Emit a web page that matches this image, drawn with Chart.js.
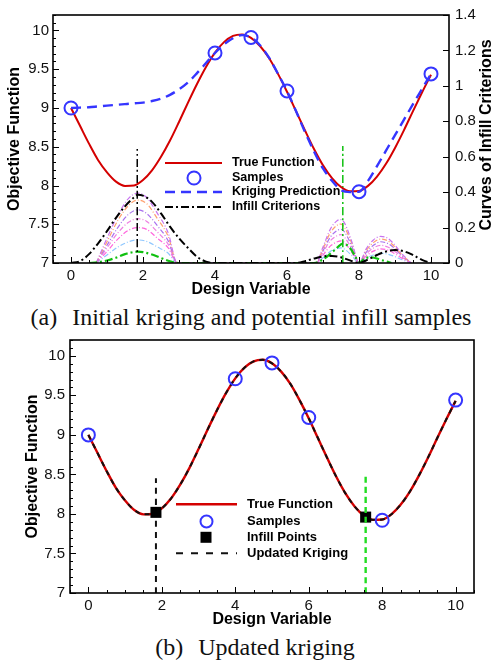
<!DOCTYPE html>
<html>
<head>
<meta charset="utf-8">
<script src="https://cdn.jsdelivr.net/npm/chart.js@4.4.1/dist/chart.umd.min.js"></script>
<style>
  html, body { margin: 0; padding: 0; background: #fff; }
  body { width: 494px; height: 666px; position: relative; overflow: hidden; }
  canvas { position: absolute; left: 0; }
  #top { top: 0; }
  #bottom { top: 326px; }
  .cap {
    position: absolute; width: 494px; text-align: center;
    font-family: "Liberation Serif", "Times New Roman", serif;
    font-size: 24px; line-height: 28px; color: #111; white-space: nowrap;
  }
  .gap { display: inline-block; width: 15px; }
</style>
</head>
<body>
<canvas id="top" width="494" height="300"></canvas>
<div class="cap" style="top:303px; left:4px">(a)<span class="gap"></span>Initial kriging and potential infill samples</div>
<canvas id="bottom" width="494" height="304"></canvas>
<div class="cap" style="top:633px; left:8px">(b)<span class="gap"></span>Updated kriging</div>
<script>
/* global Chart */

// design variable grid for the curves
const xGrid = [0, 0.25, 0.5, 0.75, 1, 1.25, 1.5, 1.75, 2, 2.25, 2.5, 2.75, 3, 3.25, 3.5, 3.75,
  4, 4.25, 4.5, 4.75, 5, 5.25, 5.5, 5.75, 6, 6.25, 6.5, 6.75, 7, 7.25, 7.5, 7.75,
  8, 8.25, 8.5, 8.75, 9, 9.25, 9.5, 9.75, 10];

const trueY = [9.0, 8.77, 8.54, 8.33, 8.17, 8.05, 7.995, 8.0, 8.07, 8.195, 8.37, 8.58, 8.82, 9.07, 9.31, 9.53,
  9.715, 9.85, 9.93, 9.95, 9.905, 9.8, 9.645, 9.44, 9.21, 8.96, 8.71, 8.47, 8.26, 8.095, 7.98, 7.925,
  7.93, 7.995, 8.115, 8.28, 8.485, 8.715, 8.96, 9.2, 9.43];

const krigingY = [9.0, 9.005, 9.01, 9.02, 9.03, 9.04, 9.05, 9.06, 9.07, 9.09, 9.12, 9.17, 9.24, 9.33, 9.45, 9.58,
  9.71, 9.82, 9.9, 9.94, 9.91, 9.81, 9.65, 9.44, 9.22, 8.96, 8.69, 8.44, 8.22, 8.06, 7.94, 7.915,
  7.92, 8.06, 8.25, 8.45, 8.65, 8.85, 9.05, 9.245, 9.44];

// updated kriging lies on the true function
const updatedY = [9.0, 8.77, 8.54, 8.33, 8.17, 8.05, 7.995, 8.0, 8.07, 8.195, 8.37, 8.58, 8.82, 9.07, 9.31, 9.53,
  9.715, 9.85, 9.93, 9.95, 9.905, 9.8, 9.645, 9.44, 9.21, 8.96, 8.71, 8.47, 8.26, 8.095, 7.98, 7.925,
  7.93, 7.995, 8.115, 8.28, 8.485, 8.715, 8.96, 9.2, 9.43];

const sampleX = [0, 4, 5, 6, 8, 10];
const sampleY = [9.0, 9.71, 9.91, 9.22, 7.92, 9.44];

const infillX = [1.84, 7.55];
const infillY = [8.02, 7.96];

// vertical markers at the infill locations: [bottom, top] on the objective axis
const markBlackY = [7, 8.47];
const markGreenY = [7, 8.51];
const markBlackY2 = [7, 8.45];
const markGreenY2 = [7, 8.5];

// infill criterion curves (right axis)
const critX = [0, 0.25, 0.5, 0.75, 1, 1.25, 1.5, 1.75, 1.85, 2, 2.25, 2.5, 2.75, 3, 3.25, 3.5, 3.75, 4,
  6.25, 6.5, 6.75, 7, 7.25, 7.5, 7.75, 8, 8.25, 8.5, 8.75, 9, 9.25, 9.5, 9.75, 10];
const critBlack = [0, 0.01, 0.05, 0.11, 0.18, 0.255, 0.32, 0.37, 0.385, 0.38, 0.345, 0.28, 0.205, 0.14, 0.085, 0.035, 0.008, 0,
  0, 0.01, 0.025, 0.037, 0.04, 0.032, 0.015, 0, 0.02, 0.045, 0.065, 0.073, 0.066, 0.045, 0.018, 0];

const greenX = [0.5, 0.75, 1, 1.25, 1.5, 1.75, 1.85, 2, 2.25, 2.5, 2.75, 3,
  6.75, 7, 7.25, 7.5, 7.55, 7.75, 7.9, 8, 8.15, 8.35, 8.6, 8.9];
const critGreen = [0, 0.004, 0.014, 0.03, 0.05, 0.062, 0.064, 0.061, 0.048, 0.028, 0.01, 0,
  0, 0.02, 0.06, 0.105, 0.11, 0.085, 0.035, 0, 0.025, 0.032, 0.018, 0];

const thinX = [0.7, 1.0, 1.3, 1.6, 1.85, 2.1, 2.4, 2.7, 2.95,
  6.8, 7.0, 7.2, 7.4, 7.5, 7.6, 7.8, 8.0, 8.2, 8.4, 8.6, 8.8, 9.0, 9.2, 9.45];
const thin1 = [0, 0.14, 0.27, 0.365, 0.395, 0.37, 0.28, 0.17, 0,
  0, 0.09, 0.19, 0.24, 0.245, 0.225, 0.12, 0, 0.08, 0.13, 0.15, 0.14, 0.1, 0.05, 0];
const thin2 = [0, 0.12, 0.24, 0.325, 0.355, 0.335, 0.25, 0.15, 0,
  0, 0.08, 0.17, 0.215, 0.22, 0.2, 0.11, 0, 0.07, 0.115, 0.135, 0.125, 0.09, 0.045, 0];
const thin3 = [0, 0.1, 0.2, 0.275, 0.3, 0.28, 0.21, 0.125, 0,
  0, 0.07, 0.145, 0.185, 0.19, 0.175, 0.095, 0, 0.06, 0.1, 0.12, 0.11, 0.08, 0.04, 0];
const thin4 = [0, 0.085, 0.17, 0.23, 0.25, 0.235, 0.175, 0.105, 0,
  0, 0.06, 0.125, 0.155, 0.16, 0.145, 0.08, 0, 0.05, 0.085, 0.1, 0.09, 0.065, 0.033, 0];
const thin5 = [0, 0.065, 0.135, 0.185, 0.2, 0.19, 0.14, 0.085, 0,
  0, 0.045, 0.095, 0.12, 0.125, 0.115, 0.06, 0, 0.04, 0.067, 0.08, 0.073, 0.052, 0.026, 0];
const thin6 = [0, 0.045, 0.09, 0.12, 0.13, 0.122, 0.09, 0.055, 0,
  0, 0.03, 0.065, 0.082, 0.085, 0.078, 0.042, 0, 0.027, 0.045, 0.055, 0.05, 0.036, 0.018, 0];
const thinColors = ["#c873f0", "#ffa070", "#a970ee", "#ee80e2", "#ff66dd", "#90c8ff"];

const xTicks = [0, 2, 4, 6, 8, 10];
const yTicks = [7, 7.5, 8, 8.5, 9, 9.5, 10];
const yTickLabels = ["7", "7.5", "8", "8.5", "9", "9.5", "10"];
const y2Ticks = [0, 0.2, 0.4, 0.6, 0.8, 1, 1.2, 1.4];
const y2TickLabels = ["0", "0.2", "0.4", "0.6", "0.8", "1", "1.2", "1.4"];

const RED = "#d40000";
const BLUE = "#3535ff";
const GREEN = "#10c010";
const SANS = '"Liberation Sans", Arial, sans-serif';
const DASHDOT = [8, 3, 2, 3];

const pts = (xs, ys) => xs.map((x, i) => ({ x, y: ys[i] }));

// frame, inward ticks, legend and extra titles
const decor = {
  id: "decor",
  afterDatasetsDraw(chart, args, opts) {
    const { ctx, chartArea: a } = chart;
    ctx.save();
    ctx.strokeStyle = "#000";
    ctx.lineWidth = 1;
    ctx.setLineDash([]);
    for (const t of opts.ticks) {
      const s = chart.scales[t.id];
      const n = Math.round((t.to - t.from) / t.minor);
      for (let k = 0; k <= n; k++) {
        const v = t.from + k * t.minor;
        const r = v / t.major;
        const major = Math.abs(r - Math.round(r)) < 1e-6;
        if (!major && !t.showMinor) continue;
        const len = major ? 6 : 3;
        const p = Math.round(s.getPixelForValue(v)) + 0.5;
        ctx.beginPath();
        if (t.side === "left") { ctx.moveTo(a.left, p); ctx.lineTo(a.left + len, p); }
        if (t.side === "right") { ctx.moveTo(a.right, p); ctx.lineTo(a.right - len, p); }
        if (t.side === "bottom") { ctx.moveTo(p, a.bottom); ctx.lineTo(p, a.bottom - len); }
        ctx.stroke();
      }
    }
    ctx.lineWidth = 1.6;
    ctx.strokeRect(a.left, a.top, a.right - a.left, a.bottom - a.top);
    ctx.restore();
  },
  afterDraw(chart, args, opts) {
    const { ctx } = chart;
    const lg = opts.legend;
    ctx.save();
    ctx.font = `bold ${lg.size}px ${SANS}`;
    ctx.textBaseline = "middle";
    ctx.fillStyle = "#000";
    for (const it of lg.items) {
      if (it.kind === "line") {
        ctx.beginPath();
        ctx.strokeStyle = it.color;
        ctx.lineWidth = it.width;
        ctx.setLineDash(it.dash || []);
        ctx.moveTo(lg.x0, it.y);
        ctx.lineTo(lg.x1, it.y);
        ctx.stroke();
      } else if (it.kind === "circle") {
        ctx.beginPath();
        ctx.setLineDash([]);
        ctx.strokeStyle = BLUE;
        ctx.lineWidth = 2;
        ctx.arc(it.cx, it.y, it.r, 0, Math.PI * 2);
        ctx.stroke();
      } else if (it.kind === "square") {
        ctx.fillStyle = "#000";
        ctx.fillRect(it.cx - it.s / 2, it.y - it.s / 2, it.s, it.s);
      }
      ctx.fillStyle = "#000";
      ctx.fillText(it.label, lg.tx, it.y);
    }
    if (opts.rightTitle) {
      const t = opts.rightTitle;
      ctx.translate(t.x, t.y);
      ctx.rotate(-Math.PI / 2);
      ctx.textAlign = "center";
      ctx.font = `bold 16px ${SANS}`;
      ctx.fillText(t.text, 0, 0);
    }
    ctx.restore();
  },
};

const noGrid = { display: false, drawTicks: false };

function xScale(h) {
  return {
    type: "linear", min: -0.5, max: 10.5,
    afterBuildTicks: (s) => { s.ticks = xTicks.map((v) => ({ value: v })); },
    ticks: { color: "#111", font: { family: SANS, size: 15 }, padding: 4, callback: (v) => String(v) },
    grid: noGrid, border: { display: false },
    title: { display: true, text: "Design Variable", color: "#000", font: { family: SANS, size: 16, weight: "bold" }, padding: { top: 0, bottom: 1 } },
    afterFit: (s) => { s.height = h; },
  };
}

function yScale(w, pad) {
  return {
    position: "left", min: 7, max: 10.2,
    afterBuildTicks: (s) => { s.ticks = yTicks.map((v) => ({ value: v })); },
    ticks: { color: "#111", font: { family: SANS, size: 15 }, padding: pad, callback: (v, i) => yTickLabels[i] },
    grid: noGrid, border: { display: false },
    title: { display: true, text: "Objective Function", color: "#000", font: { family: SANS, size: 16, weight: "bold" }, padding: { top: 5, bottom: 0 } },
    afterFit: (s) => { s.width = w; },
  };
}

const baseLine = { fill: false, pointRadius: 0, cubicInterpolationMode: "monotone" };

// ---- (a) initial kriging ----
const topSets = [
  { ...baseLine, data: pts(sampleX, sampleY), showLine: false, pointRadius: 6.5, pointStyle: "circle",
    pointBorderColor: BLUE, pointBackgroundColor: "rgba(0,0,0,0)", pointBorderWidth: 2, order: 0 },
  { ...baseLine, data: pts(xGrid, krigingY), borderColor: BLUE, borderWidth: 2.4, borderDash: [10, 6], order: 1 },
  { ...baseLine, data: pts(xGrid, trueY), borderColor: RED, borderWidth: 2, order: 2 },
  { ...baseLine, data: pts([infillX[0], infillX[0]], markBlackY), borderColor: "#000", borderWidth: 1.5, borderDash: DASHDOT, order: 3 },
  { ...baseLine, data: pts([infillX[1], infillX[1]], markGreenY), borderColor: GREEN, borderWidth: 1.5, borderDash: DASHDOT, order: 3 },
  { ...baseLine, data: pts(critX, critBlack), yAxisID: "y2", borderColor: "#000", borderWidth: 2, borderDash: DASHDOT, order: 4 },
  { ...baseLine, data: pts(greenX, critGreen), yAxisID: "y2", borderColor: GREEN, borderWidth: 2.2, borderDash: DASHDOT, order: 4 },
];
[thin1, thin2, thin3, thin4, thin5, thin6].forEach((ys, i) => {
  topSets.push({ ...baseLine, data: pts(thinX, ys), yAxisID: "y2", borderColor: thinColors[i], borderWidth: 1.2, borderDash: [5, 2, 1, 2], order: 5 });
});

new Chart(document.getElementById("top"), {
  type: "line",
  data: { datasets: topSets },
  plugins: [decor],
  options: {
    responsive: false, animation: false,
    layout: { padding: { top: 7, left: 0, right: 0, bottom: 0 }, autoPadding: false },
    plugins: {
      legend: { display: false }, tooltip: { enabled: false },
      decor: {
        ticks: [
          { id: "y", side: "left", from: 7, to: 10.2, major: 0.5, minor: 0.1, showMinor: true },
          { id: "x", side: "bottom", from: -0.5, to: 10.5, major: 2, minor: 0.5, showMinor: true },
          { id: "y2", side: "right", from: 0, to: 1.4, major: 0.2, minor: 0.2, showMinor: false },
        ],
        legend: {
          size: 12.5, x0: 165, x1: 222, tx: 232,
          items: [
            { kind: "line", label: "True Function", y: 163, color: RED, width: 2 },
            { kind: "circle", label: "Samples", y: 178, cx: 194, r: 6.5 },
            { kind: "line", label: "Kriging Prediction", y: 192, color: BLUE, width: 2.4, dash: [10, 6] },
            { kind: "line", label: "Infill Criterions", y: 207, color: "#000", width: 2, dash: DASHDOT },
          ],
        },
        rightTitle: { text: "Curves of Infill Criterions", x: 487, y: 135 },
      },
    },
    scales: {
      x: xScale(37),
      y: yScale(53, 4),
      y2: {
        position: "right", min: 0, max: 1.4,
        afterBuildTicks: (s) => { s.ticks = y2Ticks.map((v) => ({ value: v })); },
        ticks: { color: "#111", font: { family: SANS, size: 15 }, padding: 6, callback: (v, i) => y2TickLabels[i] },
        grid: noGrid, border: { display: false },
        afterFit: (s) => { s.width = 45; },
      },
    },
  },
});

// ---- (b) updated kriging ----
const bottomSets = [
  { ...baseLine, data: pts([infillX[1], infillX[1]], markGreenY2), borderColor: "#22dd22", borderWidth: 2.4, borderDash: [6, 4], order: 0 },
  { ...baseLine, data: pts(sampleX, sampleY), showLine: false, pointRadius: 6.5, pointStyle: "circle",
    pointBorderColor: BLUE, pointBackgroundColor: "rgba(0,0,0,0)", pointBorderWidth: 2, order: 1 },
  { ...baseLine, data: pts(infillX, infillY), showLine: false, pointRadius: 7.8, pointStyle: "rect",
    pointBorderColor: "#000", pointBackgroundColor: "#000", pointBorderWidth: 0, order: 2 },
  { ...baseLine, data: pts([infillX[0], infillX[0]], markBlackY2), borderColor: "#111", borderWidth: 2, borderDash: [6, 5], order: 3 },
  { ...baseLine, data: pts(xGrid, updatedY), borderColor: "#111", borderWidth: 2, borderDash: [5, 5], order: 4 },
  { ...baseLine, data: pts(xGrid, trueY), borderColor: RED, borderWidth: 2.4, order: 5 },
];

new Chart(document.getElementById("bottom"), {
  type: "line",
  data: { datasets: bottomSets },
  plugins: [decor],
  options: {
    responsive: false, animation: false,
    layout: { padding: { top: 8, left: 18, right: 20, bottom: 0 }, autoPadding: false },
    plugins: {
      legend: { display: false }, tooltip: { enabled: false },
      decor: {
        ticks: [
          { id: "y", side: "left", from: 7, to: 10.2, major: 0.5, minor: 0.1, showMinor: true },
          { id: "x", side: "bottom", from: -0.5, to: 10.5, major: 2, minor: 0.5, showMinor: true },
        ],
        legend: {
          size: 13, x0: 176, x1: 237, tx: 247,
          items: [
            { kind: "line", label: "True Function", y: 178.3, color: RED, width: 2.4 },
            { kind: "circle", label: "Samples", y: 195.5, cx: 206.5, r: 6 },
            { kind: "square", label: "Infill Points", y: 211.3, cx: 206, s: 11 },
            { kind: "line", label: "Updated Kriging", y: 227.3, color: "#111", width: 2, dash: [7, 8] },
          ],
        },
      },
    },
    scales: {
      x: xScale(37),
      y: yScale(52, 5),
    },
  },
});
</script>
</body>
</html>
